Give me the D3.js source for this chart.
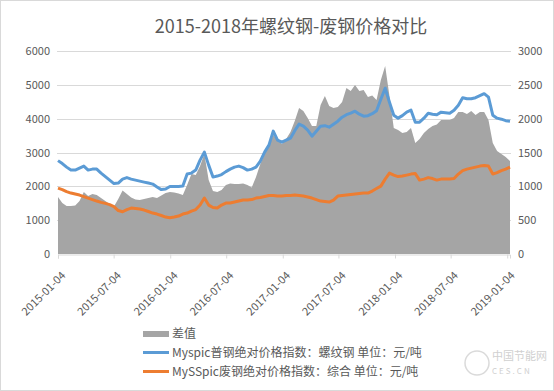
<!DOCTYPE html>
<html><head><meta charset="utf-8">
<script src="https://cdn.jsdelivr.net/npm/d3@7"></script>
<style>
body{margin:0;background:#fff}
svg{display:block}
text{font-family:"Noto Sans CJK SC","Noto Sans",sans-serif}
</style>
</head><body>
<svg id="c" width="554" height="391"></svg>
<script>
const title = "2015-2018年螺纹钢-废钢价格对比";
const seriesNames = ["差值", "Myspic普钢绝对价格指数：螺纹钢 单位：元/吨", "MySSpic废钢绝对价格指数：综合 单位：元/吨"];
const leftTicks = [0, 1000, 2000, 3000, 4000, 5000, 6000];
const rightTicks = [0, 500, 1000, 1500, 2000, 2500, 3000];
const xTickLabels = ["2015-01-04","2015-07-04","2016-01-04","2016-07-04","2017-01-04","2017-07-04","2018-01-04","2018-07-04","2019-01-04"];

const dates = [
"2015-01-04","2015-01-18","2015-02-01","2015-02-15","2015-03-01","2015-03-15","2015-03-29","2015-04-12","2015-04-26","2015-05-10",
"2015-05-24","2015-06-07","2015-06-21","2015-07-05","2015-07-19","2015-08-02","2015-08-16","2015-08-30","2015-09-13","2015-09-27",
"2015-10-11","2015-10-25","2015-11-08","2015-11-22","2015-12-06","2015-12-20","2016-01-03","2016-01-17","2016-01-31","2016-02-14",
"2016-02-28","2016-03-13","2016-03-27","2016-04-10","2016-04-24","2016-05-08","2016-05-22","2016-06-05","2016-06-19","2016-07-03",
"2016-07-17","2016-07-31","2016-08-14","2016-08-28","2016-09-11","2016-09-25","2016-10-09","2016-10-23","2016-11-06","2016-11-20",
"2016-12-04","2016-12-18","2017-01-01","2017-01-15","2017-01-29","2017-02-12","2017-02-26","2017-03-12","2017-03-26","2017-04-09",
"2017-04-23","2017-05-07","2017-05-21","2017-06-04","2017-06-18","2017-07-02","2017-07-16","2017-07-30","2017-08-13","2017-08-27",
"2017-09-10","2017-09-24","2017-10-08","2017-10-22","2017-11-05","2017-11-19","2017-12-03","2017-12-17","2017-12-31","2018-01-14",
"2018-01-28","2018-02-11","2018-02-25","2018-03-11","2018-03-25","2018-04-08","2018-04-22","2018-05-06","2018-05-20","2018-06-03",
"2018-06-17","2018-07-01","2018-07-15","2018-07-29","2018-08-12","2018-08-26","2018-09-09","2018-09-23","2018-10-07","2018-10-21",
"2018-11-04","2018-11-18","2018-12-02","2018-12-16","2018-12-30","2019-01-13"];

// 螺纹钢 (left axis)
const rebar = [
2760,2672,2568,2480,2480,2539,2598,2480,2509,2509,
2391,2288,2184,2081,2096,2214,2258,2214,2184,2155,
2125,2096,2066,1978,1904,1919,1993,1993,1993,2007,
2362,2391,2480,2775,3011,2627,2273,2303,2347,2435,
2509,2568,2598,2553,2480,2509,2568,2745,3011,3218,
3631,3365,3306,3365,3424,3646,3838,3779,3660,3483,
3631,3779,3793,3749,3838,3926,4044,4118,4162,4221,
4133,4074,4089,4148,4236,4576,4900,4487,4103,4015,
4089,4192,4251,3897,3897,4015,4162,4133,4118,4192,
4177,4162,4251,4398,4620,4590,4590,4620,4679,4738,
4635,4103,4015,3985,3941,3926];

// 废钢 (left axis)
const scrap = [
1948,1904,1845,1801,1771,1742,1697,1653,1609,1565,
1526,1497,1461,1402,1284,1249,1314,1358,1343,1328,
1299,1255,1210,1181,1137,1092,1069,1092,1122,1181,
1210,1269,1314,1446,1653,1446,1373,1358,1446,1506,
1506,1535,1565,1594,1594,1609,1653,1668,1697,1727,
1727,1712,1712,1727,1727,1742,1727,1712,1683,1653,
1609,1565,1550,1535,1594,1712,1727,1742,1756,1771,
1786,1801,1801,1860,1934,2007,2214,2391,2332,2288,
2303,2332,2362,2376,2184,2214,2258,2229,2184,2214,
2214,2214,2229,2362,2465,2509,2539,2568,2598,2613,
2598,2362,2406,2465,2509,2568];

// 差值 (right axis)
const spread = [
842,753,709,709,716,783,916,857,886,871,
827,783,739,702,812,938,886,834,805,798,
812,827,842,827,864,901,916,908,894,871,
1019,1182,1167,1300,1477,1093,931,916,945,1019,
1041,1034,1034,1041,1019,982,1137,1329,1477,1595,
1758,1684,1625,1699,1802,1964,2156,2112,2009,1891,
1891,2201,2334,2186,2156,2171,2245,2452,2408,2496,
2408,2422,2319,2341,2275,2570,2777,2334,1861,1831,
1787,1802,1861,1639,1699,1787,1846,1891,1913,1979,
1979,1979,2009,2097,2097,2068,2112,2053,2097,2097,
1979,1639,1521,1477,1433,1374];

const colors = {spread: "#A5A5A5", rebar: "#5B9BD5", scrap: "#ED7D31", grid: "#D9D9D9", text: "#595959"};

const svg = d3.select("#c");
const W = 554, H = 391;
const plot = {left: 58, right: 510, top: 51, bottom: 254};
const parse = d3.utcParse("%Y-%m-%d");
const dts = dates.map(parse);

svg.append("rect").attr("x", 0.5).attr("y", 0.5).attr("width", W - 1).attr("height", H - 1)
  .attr("fill", "#fff").attr("stroke", "#D9D9D9");

const x = d3.scaleUtc().domain([dts[0], dts[dts.length - 1]]).range([plot.left, plot.right]);
const yL = d3.scaleLinear().domain([0, 6000]).range([plot.bottom, plot.top]);
const yR = d3.scaleLinear().domain([0, 3000]).range([plot.bottom, plot.top]);

// gridlines
svg.append("g").selectAll("line").data(leftTicks.filter(d => d > 0)).join("line")
  .attr("x1", plot.left - 1).attr("x2", plot.right + 1)
  .attr("y1", d => Math.round(yL(d)) + 0.5).attr("y2", d => Math.round(yL(d)) + 0.5)
  .attr("stroke", colors.grid).attr("stroke-width", 1);

// left axis
const gl = svg.append("g").attr("transform", `translate(${plot.left - 1},0)`)
  .call(d3.axisLeft(yL).tickValues(leftTicks).tickFormat(d3.format("d")).tickSize(0).tickPadding(7));
gl.select(".domain").remove();
gl.selectAll("text").attr("fill", colors.text).style("font-size", "11px");

// right axis
const gr = svg.append("g").attr("transform", `translate(${plot.right + 1},0)`)
  .call(d3.axisRight(yR).tickValues(rightTicks).tickFormat(d3.format("d")).tickSize(0).tickPadding(7));
gr.select(".domain").remove();
gr.selectAll("text").attr("fill", colors.text).style("font-size", "11px");

// area
const area = d3.area().x((d, i) => x(dts[i])).y0(yR(0)).y1(d => yR(d));
svg.append("path").datum(spread).attr("d", area).attr("fill", colors.spread);

// x axis
const gx = svg.append("g").attr("transform", `translate(0,${plot.bottom + 0.5})`)
  .call(d3.axisBottom(x).tickValues(xTickLabels.map(parse)).tickFormat(d3.utcFormat("%Y-%m-%d")).tickSizeOuter(0).tickSize(4));
gx.select(".domain").attr("stroke", colors.grid);
gx.selectAll(".tick line").attr("stroke", colors.grid);
gx.selectAll("text").attr("fill", colors.text).style("font-size", "11px")
  .attr("x", 0).attr("y", 0).attr("dy", "0.35em").attr("text-anchor", "end")
  .attr("transform", "translate(5,19) rotate(-45)");

// lines
const line = d3.line().x((d, i) => x(dts[i])).y(d => yL(d));
svg.append("path").datum(scrap).attr("d", line).attr("fill", "none")
  .attr("stroke", colors.scrap).attr("stroke-width", 3).attr("stroke-linejoin", "round");
svg.append("path").datum(rebar).attr("d", line).attr("fill", "none")
  .attr("stroke", colors.rebar).attr("stroke-width", 3).attr("stroke-linejoin", "round");

// title
svg.append("text").attr("x", 291).attr("y", 27).attr("dy", "0.35em").attr("text-anchor", "middle")
  .attr("fill", colors.text).style("font-size", "18px").text(title);

// legend
const lg = svg.append("g");
const rows = [
  {name: seriesNames[0], type: "area", color: colors.spread, y: 334},
  {name: seriesNames[1], type: "line", color: colors.rebar, y: 352.5},
  {name: seriesNames[2], type: "line", color: colors.scrap, y: 371.5}
];
rows.forEach(r => {
  if (r.type === "area") {
    lg.append("rect").attr("x", 143).attr("y", r.y - 3).attr("width", 26).attr("height", 6).attr("fill", r.color);
  } else {
    lg.append("line").attr("x1", 143).attr("x2", 169).attr("y1", r.y).attr("y2", r.y)
      .attr("stroke", r.color).attr("stroke-width", 3);
  }
  lg.append("text").attr("x", 172).attr("y", r.y).attr("dy", "0.35em")
    .attr("fill", colors.text).style("font-size", "12px").text(r.name);
});

// watermark
const wm = svg.append("g").attr("fill", "#D0D0D0");
wm.append("circle").attr("cx", 477).attr("cy", 363).attr("r", 12).attr("fill", "none").attr("stroke", "#DADADA").attr("stroke-width", 1.5);
wm.append("text").attr("x", 492).attr("y", 360).style("font-size", "11px").text("中国节能网");
wm.append("text").attr("x", 492).attr("y", 374).style("font-size", "8px").style("letter-spacing", "2px").text("CES.CN");
</script>
</body></html>
